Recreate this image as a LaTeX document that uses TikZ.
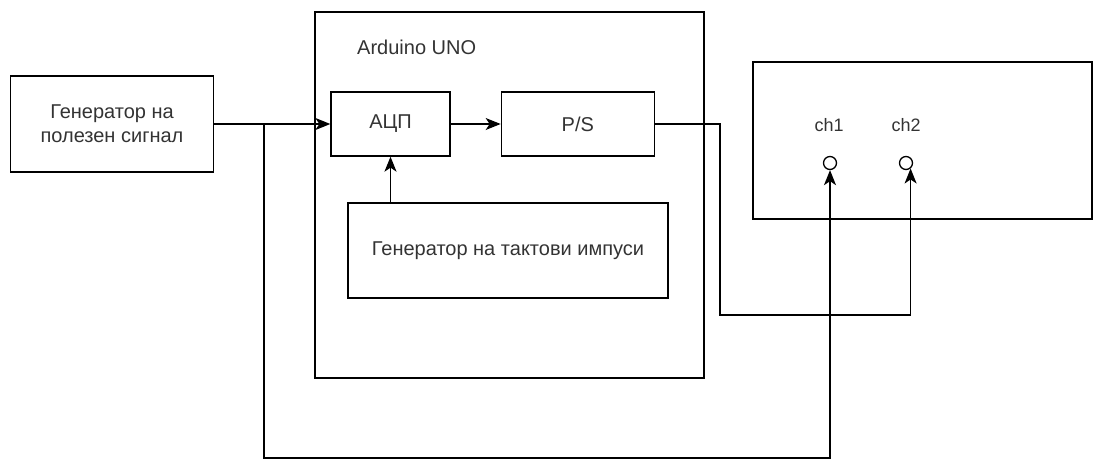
\documentclass[tikz,border=0pt]{standalone}
\usepackage{fontspec}
\setmainfont{Liberation Sans}
\usetikzlibrary{arrows.meta,positioning,calc}
\tikzset{
  box/.style={draw=black, line width=1.3pt, align=center, inner sep=2pt, text=black!80, font=\fontsize{20}{24}\selectfont},
  frame/.style={draw=black, line width=1.3pt, inner sep=0pt},
  arrow/.style={-{Stealth[length=15pt,width=12pt,inset=4pt]}, line width=1.3pt},
  port/.style={circle, draw=black, line width=1.3pt, minimum size=13pt, inner sep=0pt},
  lbl/.style={text=black!80, font=\fontsize{20}{24}\selectfont, inner sep=0pt}
}
\begin{document}
\begin{tikzpicture}[x=1pt, y=-1pt, node distance=50pt]
\useasboundingbox (0,0) rectangle (1102,471);
% outer frames
\node[frame, minimum width=389pt, minimum height=366pt] (uno) at (509.5,195) {};
\node[lbl, anchor=west] (unolbl) at (357,47) {Arduino UNO};
\node[frame, minimum width=339pt, minimum height=157pt] (osc) at (922.5,140.5) {};
% blocks
\node[box, minimum width=203pt, minimum height=96pt] (gen) at (112,124) {Генератор на\\полезен сигнал};
\node[box, minimum width=119pt, minimum height=64pt] (adc) at (390.5,124) {АЦП};
\node[box, minimum width=153pt, minimum height=64pt, right=of adc] (ps) {P/S};
\node[box, minimum width=320pt, minimum height=95pt] (clk) at (508,250.5) {Генератор на тактови импуси};
% scope inputs
\node[lbl, font=\fontsize{18}{22}\selectfont] (ch1) at (829,125) {ch1};
\node[lbl, font=\fontsize{18}{22}\selectfont] (ch2) at (906,125) {ch2};
\node[port] (ch1in) at (830,163) {};
\node[port] (ch2in) at (906,163) {};
% wires
\coordinate (split) at (264,124);
\coordinate (low) at (264,458);
\coordinate (bend) at (720,315);
\draw[arrow] (gen) -- (adc);
\draw[arrow] (adc) -- (ps);
\draw[arrow] (clk.north -| adc) -- (adc);
\draw[arrow] (split) -- (low) -| (ch1in.south);
\draw[arrow] (ps.east) -| (bend) -| (ch2in.-50);
\end{tikzpicture}
\end{document}
